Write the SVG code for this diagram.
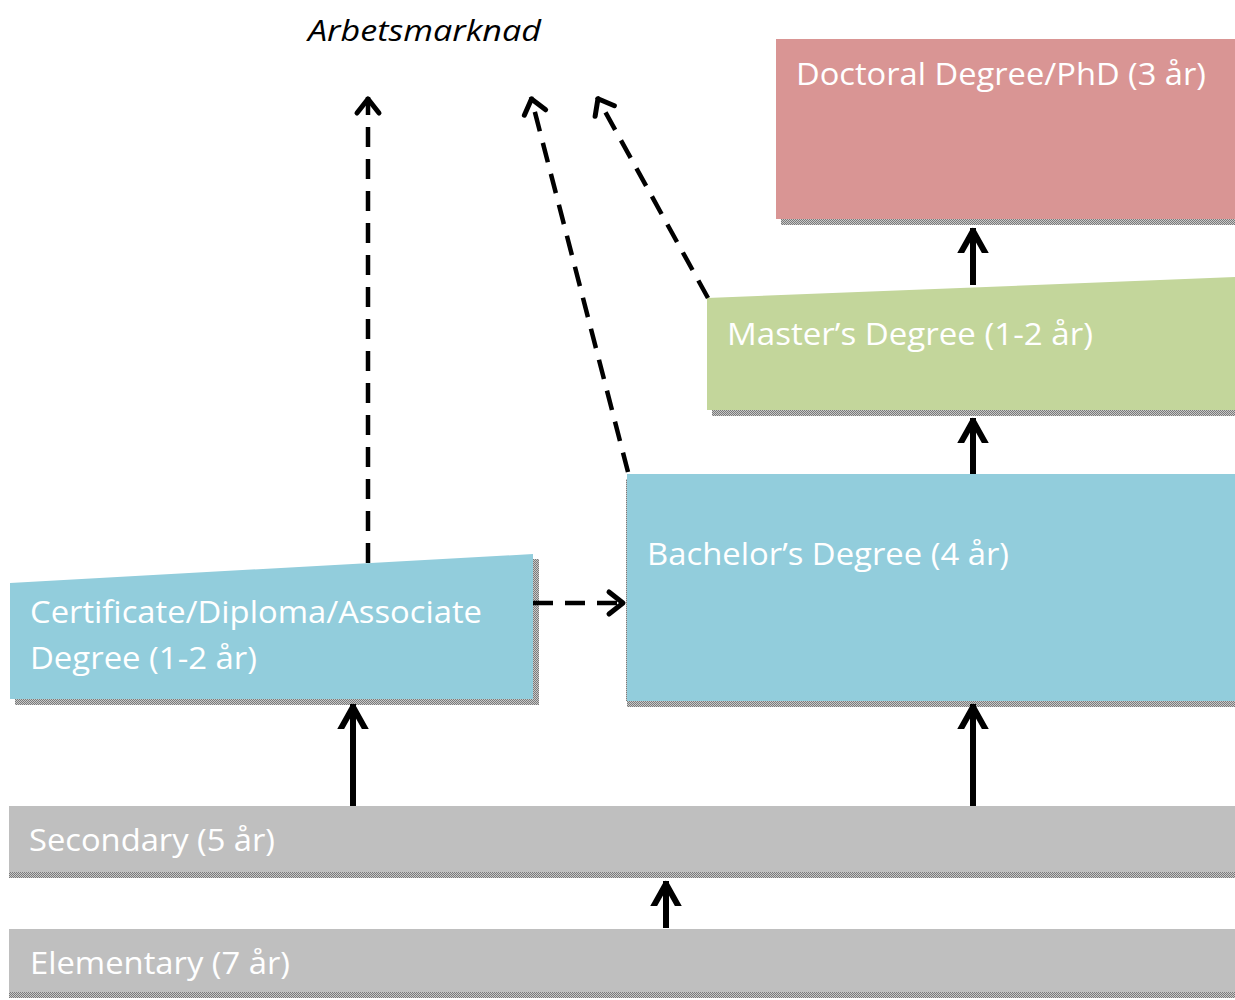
<svg xmlns="http://www.w3.org/2000/svg" width="1235" height="1000" viewBox="0 0 1235 1000">
<defs>
<pattern id="chk" width="2" height="2" patternUnits="userSpaceOnUse">
<rect width="2" height="2" fill="#c8c8c8"/>
<rect width="1" height="1" fill="#7a7a7a"/>
<rect x="1" y="1" width="1" height="1" fill="#7a7a7a"/>
</pattern>
<marker id="ah" viewBox="-25 -25 50 50" refX="0" refY="0" markerWidth="50" markerHeight="50" orient="auto" markerUnits="userSpaceOnUse">
<path d="M-28,-14 L-3,0 L-28,14" fill="none" stroke="#000" stroke-width="6" stroke-linecap="round" stroke-linejoin="round"/>
</marker>
<marker id="ahd" viewBox="-25 -25 50 50" refX="0" refY="0" markerWidth="50" markerHeight="50" orient="auto" markerUnits="userSpaceOnUse">
<path d="M-16,-11 L-2,0 L-16,11" fill="none" stroke="#000" stroke-width="5" stroke-linecap="round" stroke-linejoin="round"/>
</marker>
</defs>
<style>
.lbl{font-family:"Open Sans","Liberation Sans",sans-serif;font-size:31px;fill:#fff}
.sh{fill:url(#chk)}
.solid{stroke:#000;stroke-width:6;fill:none;marker-end:url(#ah)}
.dash{stroke:#000;stroke-width:4.5;fill:none;stroke-dasharray:20,12;marker-end:url(#ahd)}
</style>
<rect width="1235" height="1000" fill="#fff"/>
<text x="308" y="41" font-family="'Open Sans','Liberation Sans',sans-serif" font-style="italic" font-size="30" textLength="233" lengthAdjust="spacingAndGlyphs" fill="#000">Arbetsmarknad</text>

<g id="doctoral">
<rect class="sh" x="781" y="219" width="454" height="6"/>
<rect x="776" y="39" width="459" height="180" fill="#D99594"/>
<text class="lbl" x="796" y="85" textLength="410" lengthAdjust="spacingAndGlyphs">Doctoral Degree/PhD (3 år)</text>
</g>

<g id="masters">
<rect class="sh" x="712" y="410" width="523" height="6"/>
<polygon points="707,298 1235,277 1235,410 707,410" fill="#C3D69B"/>
<text class="lbl" x="727" y="345" textLength="366" lengthAdjust="spacingAndGlyphs">Master’s Degree (1-2 år)</text>
</g>

<g id="bachelors">
<rect class="sh" x="627" y="701" width="608" height="6"/>
<rect class="sh" x="626" y="479" width="2" height="222"/>
<rect x="627" y="474" width="608" height="227" fill="#92CDDC"/>
<text class="lbl" x="647" y="565" textLength="362" lengthAdjust="spacingAndGlyphs">Bachelor’s Degree (4 år)</text>
</g>

<g id="certificate">
<polygon class="sh" points="533,559 539,559 539,705 15,705 15,699 533,699"/>
<polygon points="10,583 533,554 533,699 10,699" fill="#92CDDC"/>
<text class="lbl" x="30" y="623" textLength="452" lengthAdjust="spacingAndGlyphs">Certificate/Diploma/Associate</text>
<text class="lbl" x="30" y="669" textLength="227" lengthAdjust="spacingAndGlyphs">Degree (1-2 år)</text>
</g>

<g id="secondary">
<rect class="sh" x="9" y="872" width="1226" height="6"/>
<rect x="9" y="806" width="1226" height="66" fill="#BFBFBF"/>
<text class="lbl" x="29" y="851" textLength="246" lengthAdjust="spacingAndGlyphs">Secondary (5 år)</text>
</g>

<g id="elementary">
<rect class="sh" x="9" y="992" width="1226" height="6"/>
<rect x="9" y="929" width="1226" height="63" fill="#BFBFBF"/>
<text class="lbl" x="30" y="974" textLength="260" lengthAdjust="spacingAndGlyphs">Elementary (7 år)</text>
</g>

<g id="connectors">
<line class="solid" x1="353" y1="806" x2="353" y2="704"/>
<line class="solid" x1="973" y1="806" x2="973" y2="704"/>
<line class="solid" x1="666" y1="928" x2="666" y2="881"/>
<line class="solid" x1="973" y1="474" x2="973" y2="418"/>
<line class="solid" x1="973" y1="285" x2="973" y2="228"/>
<line class="dash" x1="368" y1="563" x2="368" y2="97"/>
<line class="dash" x1="628" y1="472" x2="531" y2="97"/>
<line class="dash" x1="708" y1="298" x2="597" y2="97"/>
<line class="dash" x1="533" y1="603" x2="625" y2="603" stroke-width="6" stroke-dasharray="25,20"/>
</g>
</svg>
